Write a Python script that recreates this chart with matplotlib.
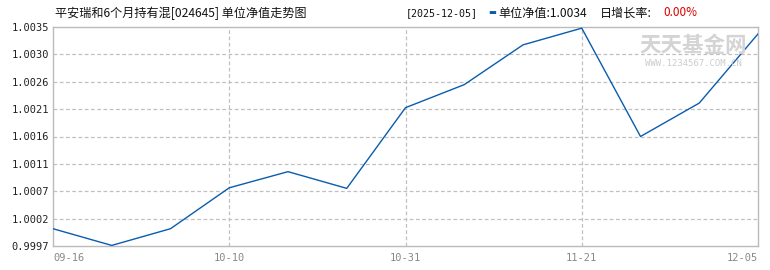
import matplotlib
matplotlib.use("Agg")
import matplotlib.pyplot as plt
import numpy as np

plt.rcParams["font.family"] = ["Noto Sans CJK SC", "DejaVu Sans"]

W, H = 770, 270

# 单位净值 (13 points, evenly spaced)
nav = [1.00000, 0.99971, 1.00000, 1.00071, 1.00099, 1.00070, 1.00210,
       1.00250, 1.00319, 1.00348, 1.00160, 1.00218, 1.00338]
x_labels = ["09-16", "10-10", "10-31", "11-21", "12-05"]
y_min, y_max = 0.9997, 1.0035

fund_title = "平安瑞和6个月持有混[024645] 单位净值走势图"
last_date = "[2025-12-05]"
last_nav = "单位净值:1.0034"
daily_label = "日增长率:"
daily_rate = "0.00%"

fig = plt.figure(figsize=(W / 100, H / 100), dpi=100)
left, right, top, bottom = 53, 758, 27, 246
ax = fig.add_axes([left / W, 1 - bottom / H, (right - left) / W, (bottom - top) / H])

x = np.arange(len(nav))
ax.plot(x, nav, color="#0a5cae", linewidth=1.0, zorder=3)
ax.set_xlim(0, len(nav) - 1)
ax.set_ylim(y_min, y_max)

yt = np.linspace(y_min, y_max, 9)
ax.set_yticks(yt)
ax.set_yticklabels([f"{v:.4f}" for v in yt], family="DejaVu Sans Mono",
                   fontsize=7.5, color="#222222")
tick_idx = list(range(0, len(nav), 3))
ax.set_xticks(tick_idx)
xl = ax.set_xticklabels(x_labels, family="DejaVu Sans Mono", fontsize=7.5,
                        color="#888888")
xl[0].set_horizontalalignment("left")
xl[-1].set_horizontalalignment("right")
ax.tick_params(axis="y", length=0, pad=3)
ax.tick_params(axis="x", length=0, pad=5)

for v in yt[1:-1]:
    ax.axhline(v, color="#c0c0c0", linestyle=(0, (3, 2)), linewidth=0.9, zorder=1)
for i in tick_idx[1:-1]:
    ax.axvline(i, color="#c0c0c0", linestyle=(0, (3, 2)), linewidth=0.9, zorder=1)
for s in ax.spines.values():
    s.set_color("#bbbbbb")
    s.set_linewidth(1.0)

# watermark
fig.text(693 / W, 1 - 46 / H, "天天基金网", fontsize=15.5, color="#d4d4d4",
         ha="center", va="center", fontweight="bold", zorder=0)
fig.text(693 / W, 1 - 63 / H, "WWW.1234567.COM.CN", fontsize=6.5,
         color="#cccccc", ha="center", va="center", family="DejaVu Sans Mono")

# header
ty = 1 - 13 / H
fig.text(55 / W, ty, fund_title, fontsize=8.7, va="center", color="#111111")
fig.text(406 / W, ty, last_date, fontsize=7.2, va="center", color="#111111",
         family=["DejaVu Sans Mono", "Noto Sans CJK SC"])
fig.text(488 / W, ty, "▬", fontsize=6, va="center", color="#0a5cae")
fig.text(498 / W, ty, last_nav, fontsize=8.7, va="center", color="#111111")
fig.text(600 / W, ty, daily_label, fontsize=8.7, va="center", color="#111111")
fig.text(663 / W, ty, daily_rate, fontsize=8.5, va="center", color="#dd0000")

fig.savefig("out.png", dpi=100)
